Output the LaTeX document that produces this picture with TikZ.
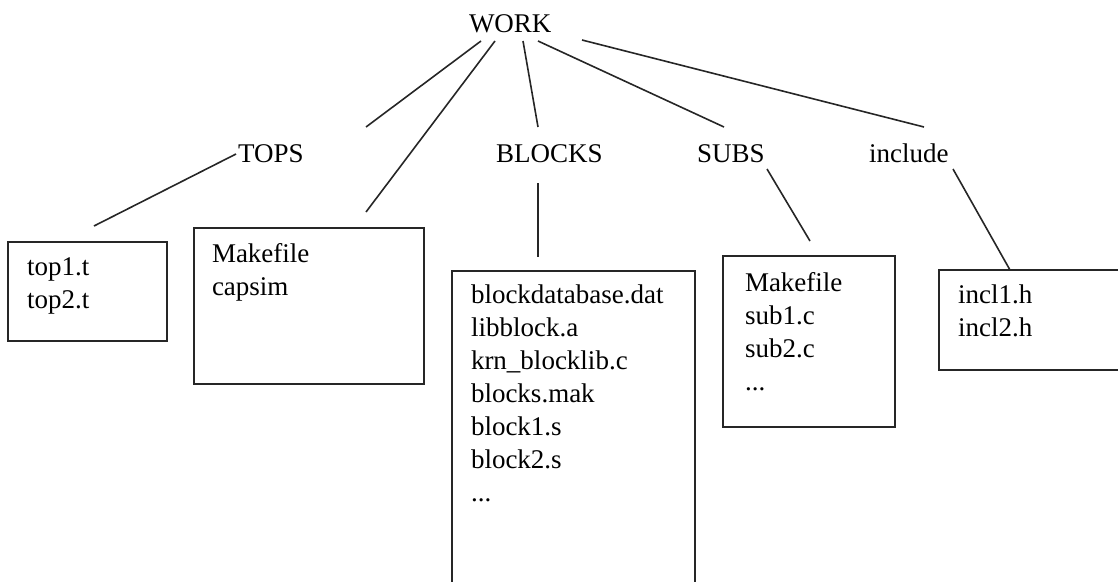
\documentclass[tikz,border=0pt]{standalone}
\usepackage{fontspec}
\setmainfont{Liberation Serif}
\begin{document}
\begin{tikzpicture}[x=0.75pt,y=-0.75pt,
  lbl/.style={inner sep=0pt, outer sep=0pt, anchor=base west, text=black,
    font=\fontsize{20.25pt}{24.75pt}\selectfont},
  filebox/.style={draw=black!85, line width=1.4pt, anchor=north west,
    inner sep=0pt, outer sep=0pt},
  conn/.style={draw=black!85, line width=1.2pt}]
\useasboundingbox (0,0) rectangle (1118,582);
\clip (0,0) rectangle (1118,582);

% boxes
\node[filebox, minimum width=159*0.75pt, minimum height=99*0.75pt] (topsbox) at (8,242) {};
\node[filebox, minimum width=230*0.75pt, minimum height=156*0.75pt] (mainbox) at (194,228) {};
\node[filebox, minimum width=243*0.75pt, minimum height=400*0.75pt] (blocksbox) at (452,271) {};
\node[filebox, minimum width=172*0.75pt, minimum height=171*0.75pt] (subsbox) at (723,256) {};
\node[filebox, minimum width=250*0.75pt, minimum height=100*0.75pt] (inclbox) at (939,270) {};

% labels
\node[lbl] (work) at (469,32) {WORK};
\node[lbl] (tops) at (238,162) {TOPS};
\node[lbl] (blocks) at (496,162) {BLOCKS};
\node[lbl] (subs) at (697,162) {SUBS};
\node[lbl] (include) at (869,162) {include};

% box contents
\node[lbl] (topsfiles) at (27,275) {\begin{tabular}[t]{@{}l@{}}top1.t\\top2.t\end{tabular}};
\node[lbl] (mainfiles) at (212,262) {\begin{tabular}[t]{@{}l@{}}Makefile\\capsim\end{tabular}};
\node[lbl] (blockfiles) at (471,303) {\begin{tabular}[t]{@{}l@{}}blockdatabase.dat\\libblock.a\\krn\_blocklib.c\\blocks.mak\\block1.s\\block2.s\\...\end{tabular}};
\node[lbl] (subfiles) at (745,291) {\begin{tabular}[t]{@{}l@{}}Makefile\\sub1.c\\sub2.c\\...\end{tabular}};
\node[lbl] (inclfiles) at (958,303) {\begin{tabular}[t]{@{}l@{}}incl1.h\\incl2.h\end{tabular}};

% connector end points
\coordinate (w1) at (481,41);  \coordinate (e1) at (366,127);
\coordinate (w2) at (495,41);  \coordinate (e2) at (366,212);
\coordinate (w3) at (523,41);  \coordinate (e3) at (538,127);
\coordinate (w4) at (538,41);  \coordinate (e4) at (724,127);
\coordinate (w5) at (582,40);  \coordinate (e5) at (924,127);
\coordinate (t1) at (236,154); \coordinate (t2) at (94,226);
\coordinate (b1) at (538,183); \coordinate (b2) at (538,257);
\coordinate (s1) at (767,169); \coordinate (s2) at (810,241);
\coordinate (i1) at (953,169); \coordinate (i2) at (1010,270);

\draw[conn] (w1) -- (e1);
\draw[conn] (w2) -- (e2);
\draw[conn] (w3) -- (e3);
\draw[conn] (w4) -- (e4);
\draw[conn] (w5) -- (e5);
\draw[conn] (t1) -- (t2);
\draw[conn] (b1) -- (b2);
\draw[conn] (s1) -- (s2);
\draw[conn] (i1) -- (i2);
\end{tikzpicture}
\end{document}
